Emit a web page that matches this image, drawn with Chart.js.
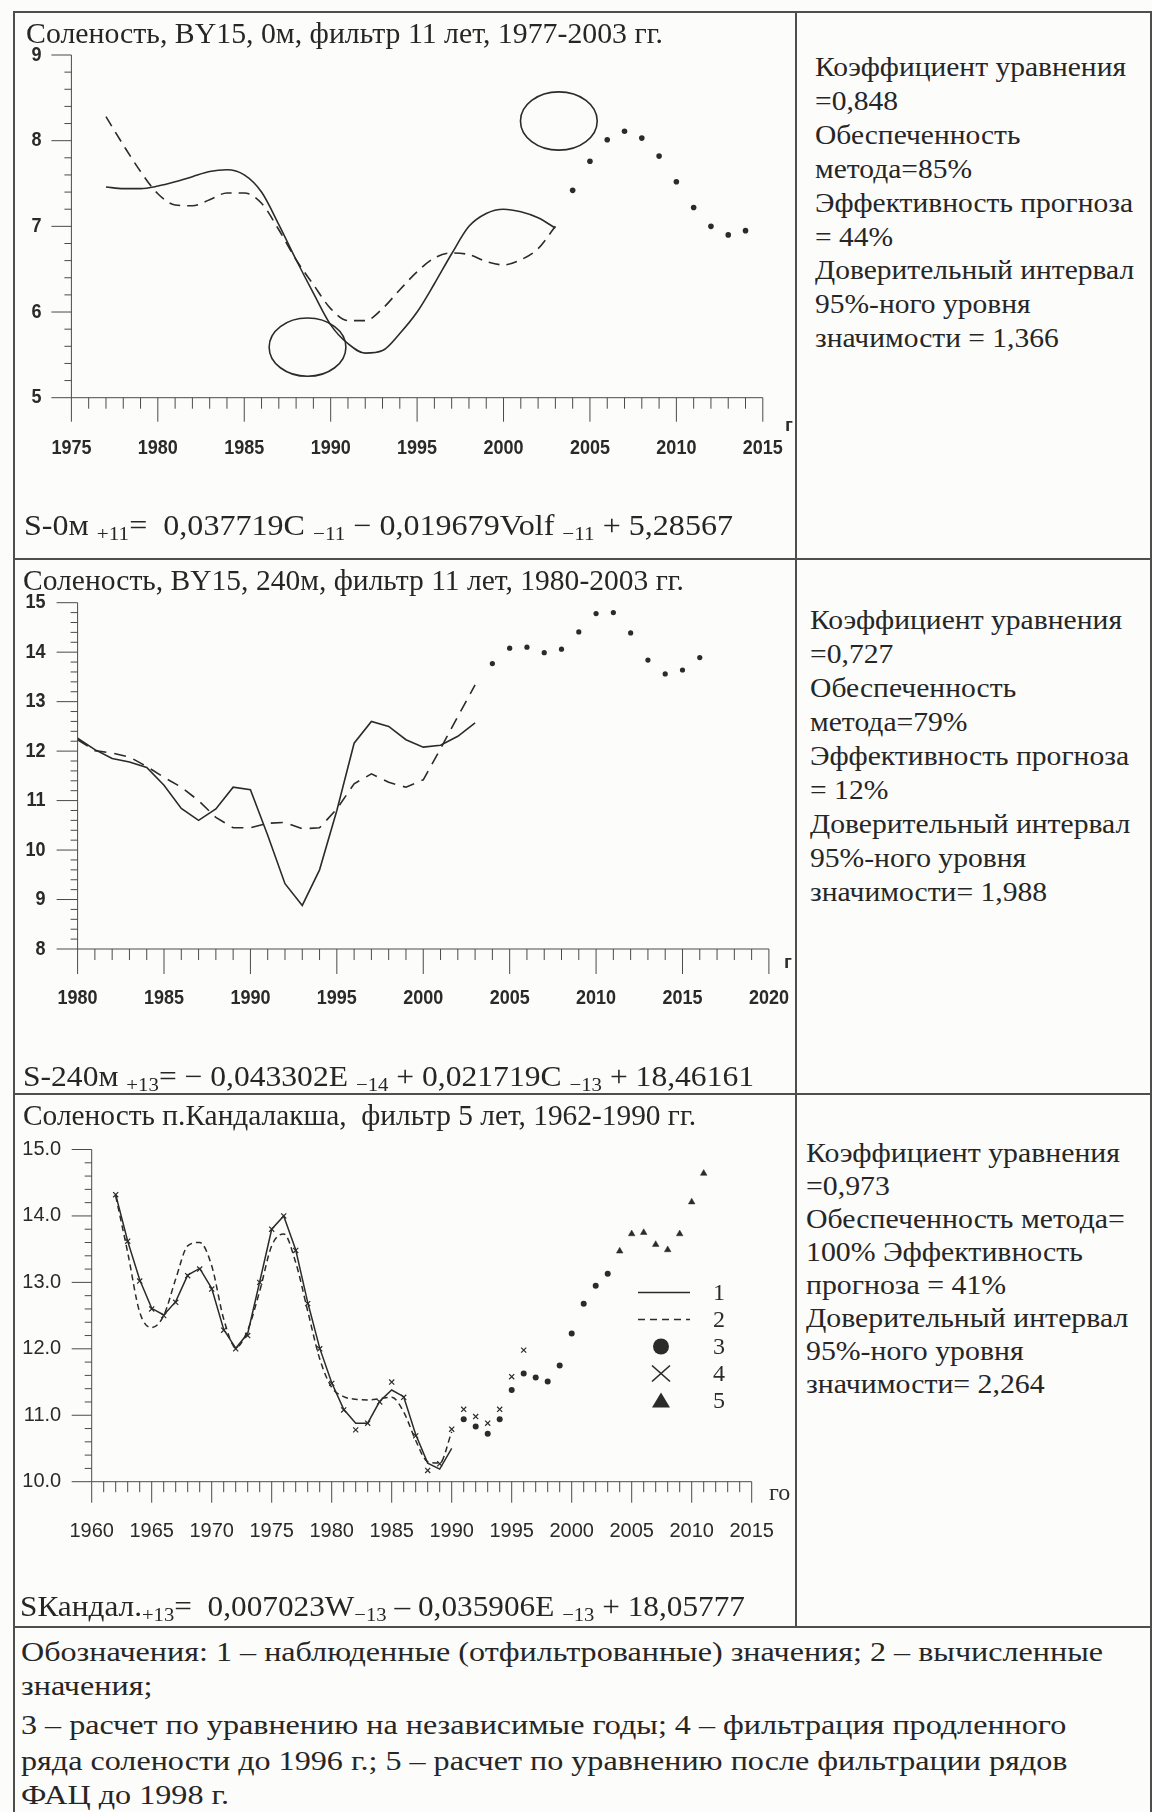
<!DOCTYPE html>
<html lang="ru">
<head>
<meta charset="utf-8">
<title>Соленость: наблюденные и вычисленные значения</title>
<script src="https://cdn.jsdelivr.net/npm/chart.js@4.4.1/dist/chart.umd.min.js"></script>
<style>
  html, body { margin: 0; padding: 0; background: #fcfcfb; }
  #sheet { position: relative; width: 1152px; height: 1812px; overflow: hidden;
           font-family: "Liberation Serif", "Times New Roman", serif; color: #262626; }
  .rule { position: absolute; background: #4e4e4e; }
  .t { position: absolute; white-space: nowrap; line-height: 1; transform-origin: 0 50%; }
  .t .lo { font-size: 0.66em; position: relative; top: 0.3em; }
  .unit { position: absolute; white-space: nowrap; line-height: 1; color: #2e2e2e; }
  canvas { position: absolute; left: 0; }
</style>
</head>
<body>
<div id="sheet">
  <!-- table frame -->
  <div class="rule" style="left:14px; top:11px; width:1137px; height:2px"></div>
  <div class="rule" style="left:13px; top:11px; width:1.5px; height:1801px"></div>
  <div class="rule" style="left:1150px; top:11px; width:1.5px; height:1801px"></div>
  <div class="rule" style="left:795px; top:11px; width:1.5px; height:1617px"></div>
  <div class="rule" style="left:14px; top:558px; width:1137px; height:2px"></div>
  <div class="rule" style="left:14px; top:1093px; width:1137px; height:2px"></div>
  <div class="rule" style="left:14px; top:1626px; width:1137px; height:2px"></div>

  <canvas id="c1" width="796" height="560" style="top:0"></canvas>
  <canvas id="c2" width="796" height="534" style="top:560px"></canvas>
  <canvas id="c3" width="796" height="533" style="top:1094px"></canvas>

  <!-- panel 1 -->
  <div class="t" data-x="26" data-cy="33" data-fs="30" data-w="637">Соленость, BY15, 0м, фильтр 11 лет, 1977-2003 гг.</div>
  <div class="unit" style="left:785px; top:414px; font:bold 19px 'Liberation Sans', Arial, sans-serif">г</div>
  <div class="t" data-x="24" data-cy="525" data-fs="29" data-w="709">S-0м <span class="lo">+11</span>=&nbsp; 0,037719C <span class="lo">−11</span> − 0,019679Volf <span class="lo">−11</span> + 5,28567</div>
  <div class="t" data-x="815" data-cy="67" data-fs="28" data-w="311" data-g="r1">Коэффициент уравнения</div>
  <div class="t" data-x="815" data-cy="100.9" data-fs="28" data-g="r1">=0,848</div>
  <div class="t" data-x="815" data-cy="134.8" data-fs="28" data-g="r1">Обеспеченность</div>
  <div class="t" data-x="815" data-cy="168.7" data-fs="28" data-g="r1">метода=85%</div>
  <div class="t" data-x="815" data-cy="202.6" data-fs="28" data-g="r1">Эффективность прогноза</div>
  <div class="t" data-x="815" data-cy="236.5" data-fs="28" data-g="r1">= 44%</div>
  <div class="t" data-x="815" data-cy="270.4" data-fs="28" data-g="r1">Доверительный интервал</div>
  <div class="t" data-x="815" data-cy="304.3" data-fs="28" data-g="r1">95%-ного уровня</div>
  <div class="t" data-x="815" data-cy="338.2" data-fs="28" data-g="r1">значимости = 1,366</div>

  <!-- panel 2 -->
  <div class="t" data-x="23" data-cy="580" data-fs="30" data-w="661">Соленость, BY15, 240м, фильтр 11 лет, 1980-2003 гг.</div>
  <div class="unit" style="left:784px; top:951px; font:bold 19px 'Liberation Sans', Arial, sans-serif">г</div>
  <div class="t" data-x="23" data-cy="1076" data-fs="29" data-w="731">S-240м <span class="lo">+13</span>= − 0,043302E <span class="lo">−14</span> + 0,021719C <span class="lo">−13</span> + 18,46161</div>
  <div class="t" data-x="810" data-cy="620" data-fs="28" data-w="312" data-g="r2">Коэффициент уравнения</div>
  <div class="t" data-x="810" data-cy="654" data-fs="28" data-g="r2">=0,727</div>
  <div class="t" data-x="810" data-cy="688" data-fs="28" data-g="r2">Обеспеченность</div>
  <div class="t" data-x="810" data-cy="722" data-fs="28" data-g="r2">метода=79%</div>
  <div class="t" data-x="810" data-cy="756" data-fs="28" data-g="r2">Эффективность прогноза</div>
  <div class="t" data-x="810" data-cy="790" data-fs="28" data-g="r2">= 12%</div>
  <div class="t" data-x="810" data-cy="824" data-fs="28" data-g="r2">Доверительный интервал</div>
  <div class="t" data-x="810" data-cy="858" data-fs="28" data-g="r2">95%-ного уровня</div>
  <div class="t" data-x="810" data-cy="892" data-fs="28" data-g="r2">значимости= 1,988</div>

  <!-- panel 3 -->
  <div class="t" data-x="23" data-cy="1115" data-fs="30" data-w="673">Соленость п.Кандалакша,&nbsp; фильтр 5 лет, 1962-1990 гг.</div>
  <div class="unit" style="left:769px; top:1479px; font:24px 'Liberation Serif', serif">го</div>
  <div class="t" data-x="20" data-cy="1606" data-fs="29" data-w="725">SКандал.<span class="lo">+13</span>=&nbsp; 0,007023W<span class="lo">−13</span> – 0,035906E <span class="lo">−13</span> + 18,05777</div>
  <div class="t" data-x="806" data-cy="1153" data-fs="28" data-w="314" data-g="r3">Коэффициент уравнения</div>
  <div class="t" data-x="806" data-cy="1186" data-fs="28" data-g="r3">=0,973</div>
  <div class="t" data-x="806" data-cy="1219" data-fs="28" data-g="r3">Обеспеченность метода=</div>
  <div class="t" data-x="806" data-cy="1252" data-fs="28" data-g="r3">100% Эффективность</div>
  <div class="t" data-x="806" data-cy="1285" data-fs="28" data-g="r3">прогноза = 41%</div>
  <div class="t" data-x="806" data-cy="1318" data-fs="28" data-g="r3">Доверительный интервал</div>
  <div class="t" data-x="806" data-cy="1351" data-fs="28" data-g="r3">95%-ного уровня</div>
  <div class="t" data-x="806" data-cy="1384" data-fs="28" data-g="r3">значимости= 2,264</div>

  <!-- notes -->
  <div class="t" data-x="21" data-cy="1652" data-fs="28" data-w="1082" data-g="n">Обозначения: 1 – наблюденные (отфильтрованные) значения; 2 – вычисленные</div>
  <div class="t" data-x="21" data-cy="1686" data-fs="28" data-g="n">значения;</div>
  <div class="t" data-x="21" data-cy="1725" data-fs="28" data-g="n">3 – расчет по уравнению на независимые годы; 4 – фильтрация продленного</div>
  <div class="t" data-x="21" data-cy="1761" data-fs="28" data-g="n">ряда солености до 1996 г.; 5 – расчет по уравнению после фильтрации рядов</div>
  <div class="t" data-x="21" data-cy="1795" data-fs="28" data-g="n">ФАЦ до 1998 г.</div>
</div>

<script>
// ---------- Panel 1: BY15, 0 m, 11-year filter ----------
const years1 = [1977, 1978, 1979, 1980, 1981, 1982, 1983, 1984, 1985, 1986, 1987, 1988, 1989, 1990,
                1991, 1992, 1993, 1994, 1995, 1996, 1997, 1998, 1999, 2000, 2001, 2002, 2003];
const observed1 = [7.46, 7.44, 7.44, 7.47, 7.52, 7.58, 7.64, 7.66, 7.60, 7.40, 7.02, 6.61, 6.22, 5.85,
                   5.63, 5.52, 5.55, 5.75, 6.00, 6.33, 6.68, 7.00, 7.15, 7.20, 7.17, 7.10, 6.98];
const computed1 = [8.28, 7.95, 7.64, 7.38, 7.25, 7.24, 7.31, 7.39, 7.39, 7.27, 6.96, 6.61, 6.32, 6.04,
                   5.90, 5.90, 6.04, 6.26, 6.47, 6.63, 6.69, 6.67, 6.59, 6.55, 6.61, 6.74, 7.00];
const forecastYears1 = [2004, 2005, 2006, 2007, 2008, 2009, 2010, 2011, 2012, 2013, 2014];
const forecast1 = [7.42, 7.76, 8.01, 8.11, 8.03, 7.82, 7.52, 7.22, 7.00, 6.90, 6.95];
const ringYears1 = [2003.2, 1988.66];
const ringValues1 = [8.23, 5.59];
const xTicks1 = [1975, 1980, 1985, 1990, 1995, 2000, 2005, 2010, 2015];
const yTicks1 = [5, 6, 7, 8, 9];

// ---------- Panel 2: BY15, 240 m, 11-year filter ----------
const years2 = [1980, 1981, 1982, 1983, 1984, 1985, 1986, 1987, 1988, 1989, 1990, 1991,
                1992, 1993, 1994, 1995, 1996, 1997, 1998, 1999, 2000, 2001, 2002, 2003];
const observed2 = [12.26, 12.03, 11.85, 11.78, 11.67, 11.31, 10.84, 10.60, 10.83, 11.27, 11.22, 10.30,
                   9.32, 8.88, 9.60, 10.80, 12.16, 12.60, 12.50, 12.23, 12.08, 12.12, 12.30, 12.57];
const computed2 = [12.23, 12.01, 11.96, 11.88, 11.69, 11.47, 11.27, 11.00, 10.66, 10.45, 10.45, 10.54,
                   10.56, 10.43, 10.45, 10.83, 11.34, 11.54, 11.37, 11.27, 11.42, 12.05, 12.70, 13.34];
const forecastYears2 = [2004, 2005, 2006, 2007, 2008, 2009, 2010, 2011, 2012, 2013, 2014, 2015, 2016];
const forecast2 = [13.77, 14.08, 14.10, 13.99, 14.06, 14.41, 14.78, 14.80, 14.39, 13.84, 13.56, 13.64, 13.89];
const xTicks2 = [1980, 1985, 1990, 1995, 2000, 2005, 2010, 2015, 2020];
const yTicks2 = [8, 9, 10, 11, 12, 13, 14, 15];

// ---------- Panel 3: Kandalaksha, 5-year filter ----------
const years3 = [1962, 1963, 1964, 1965, 1966, 1967, 1968, 1969, 1970, 1971, 1972, 1973, 1974, 1975,
                1976, 1977, 1978, 1979, 1980, 1981, 1982, 1983, 1984, 1985, 1986, 1987, 1988, 1989, 1990];
const observed3 = [14.32, 13.62, 13.04, 12.61, 12.51, 12.71, 13.11, 13.21, 12.91, 12.29, 12.01, 12.23, 13.01, 13.80,
                   14.00, 13.49, 12.70, 12.01, 11.49, 11.09, 10.88, 10.88, 11.21, 11.38, 11.28, 10.71, 10.28, 10.19, 10.50];
const computed3 = [14.30, 13.45, 12.55, 12.32, 12.50, 13.05, 13.55, 13.60, 13.25, 12.45, 12.02, 12.28, 12.87, 13.55,
                   13.73, 13.30, 12.57, 11.85, 11.42, 11.28, 11.24, 11.23, 11.25, 11.27, 11.05, 10.62, 10.30, 10.28, 10.75];
const extendedYears3 = [1962, 1963, 1964, 1965, 1966, 1967, 1968, 1969, 1970, 1971, 1972, 1973, 1974, 1975,
                        1976, 1977, 1978, 1979, 1980, 1981, 1982, 1983, 1984, 1985, 1986, 1987, 1988, 1989,
                        1990, 1991, 1992, 1993, 1994, 1995, 1996];
const extended3 = [14.32, 13.62, 13.02, 12.60, 12.50, 12.70, 13.10, 13.20, 12.90, 12.28, 12.00, 12.20, 13.00, 13.80,
                   14.00, 13.48, 12.68, 12.00, 11.48, 11.08, 10.78, 10.88, 11.20, 11.50, 11.27, 10.69, 10.17, 10.27,
                   10.79, 11.09, 10.98, 10.88, 11.09, 11.58, 11.98];
const independentYears3 = [1991, 1992, 1993, 1994, 1995, 1996, 1997, 1998, 1999, 2000, 2001, 2002, 2003];
const independent3 = [10.94, 10.83, 10.72, 10.94, 11.38, 11.63, 11.57, 11.51, 11.75, 12.23, 12.68, 12.95, 13.13];
const refilteredYears3 = [2004, 2005, 2006, 2007, 2008, 2009, 2010, 2011];
const refiltered3 = [13.47, 13.73, 13.75, 13.57, 13.49, 13.73, 14.21, 14.64];
const xTicks3 = [1960, 1965, 1970, 1975, 1980, 1985, 1990, 1995, 2000, 2005, 2010, 2015];
const yTicks3 = [10, 11, 12, 13, 14, 15];
const legendLabels3 = ['1', '2', '3', '4', '5'];

// ---------- drawing helpers ----------
const ink = '#2b2b2b';
const axisInk = '#4a4a4a';
const sans = '"Liberation Sans", Arial, sans-serif';
const serif = '"Liberation Serif", "Times New Roman", serif';

function pts(xs, ys) { return xs.map((x, i) => ({ x: x, y: ys[i] })); }

function seg(ctx, x1, y1, x2, y2) {
  ctx.beginPath(); ctx.moveTo(x1, y1); ctx.lineTo(x2, y2); ctx.stroke();
}

function label(ctx, text, x, y, stretch) {
  ctx.save();
  ctx.translate(x, y);
  ctx.scale(1, stretch);
  ctx.fillText(text, 0, 0);
  ctx.restore();
}

// Axes, year/value tick marks and tick labels, placed through the chart scales.
const axesPlugin = {
  id: 'axesPlugin',
  beforeDatasetsDraw(chart, args, o) {
    const ctx = chart.ctx, sx = chart.scales.x, sy = chart.scales.y;
    const left = sx.getPixelForValue(sx.min), right = sx.getPixelForValue(sx.max);
    const top = sy.getPixelForValue(sy.max), bottom = sy.getPixelForValue(sy.min);
    ctx.save();
    ctx.strokeStyle = axisInk;
    ctx.lineWidth = 1;
    seg(ctx, left, top, left, bottom);
    seg(ctx, left, bottom, right, bottom);
    const nx = Math.round((sx.max - sx.min) / o.xStep);
    for (let k = 0; k <= nx; k++) {
      const v = sx.min + k * o.xStep;
      const px = sx.getPixelForValue(v);
      const major = o.xTicks.indexOf(v) >= 0;
      seg(ctx, px, bottom, px, bottom + (major ? o.xMajorLen : o.xMinorLen));
    }
    const ny = Math.round((sy.max - sy.min) / o.yStep);
    for (let k = 0; k <= ny; k++) {
      const v = +(sy.min + k * o.yStep).toFixed(4);
      const py = sy.getPixelForValue(v);
      const major = o.yTicks.indexOf(v) >= 0;
      seg(ctx, left - (major ? o.yMajorLen : o.yMinorLen), py, left, py);
    }
    ctx.fillStyle = '#2a2a2a';
    ctx.font = o.font;
    ctx.textAlign = 'center';
    ctx.textBaseline = 'middle';
    o.xTicks.forEach(v => label(ctx, String(v), sx.getPixelForValue(v), bottom + o.xLabelGap, o.stretch));
    ctx.textAlign = 'right';
    o.yTicks.forEach(v => label(ctx, v.toFixed(o.decimals), left - o.yLabelGap, sy.getPixelForValue(v), o.stretch));
    ctx.restore();
  }
};

// Hand-drawn style highlight ellipses, centred on data coordinates.
const ringsPlugin = {
  id: 'ringsPlugin',
  afterDatasetsDraw(chart, args, o) {
    if (!o.xs) return;
    const ctx = chart.ctx, sx = chart.scales.x, sy = chart.scales.y;
    ctx.save();
    ctx.strokeStyle = ink;
    ctx.lineWidth = 1.6;
    o.xs.forEach((xv, i) => {
      const cx = sx.getPixelForValue(xv), cy = sy.getPixelForValue(o.ys[i]);
      const rx = Math.abs(sx.getPixelForValue(xv + o.halfX) - cx);
      const ry = Math.abs(sy.getPixelForValue(o.ys[i] + o.halfY) - cy);
      ctx.beginPath();
      ctx.ellipse(cx, cy, rx, ry, 0, 0, Math.PI * 2);
      ctx.stroke();
    });
    ctx.restore();
  }
};

// Key with line samples and marker symbols inside the plot.
const keyPlugin = {
  id: 'keyPlugin',
  afterDatasetsDraw(chart, args, o) {
    if (!o.rows) return;
    const ctx = chart.ctx;
    ctx.save();
    ctx.strokeStyle = ink; ctx.fillStyle = ink;
    o.rows.forEach((r, i) => {
      const y = o.top + i * o.gap;
      const cx = o.symbolX;
      ctx.lineWidth = 1.5;
      if (r === 'solid' || r === 'dash') {
        ctx.setLineDash(r === 'dash' ? [7, 5] : []);
        seg(ctx, o.lineFrom, y, o.lineTo, y);
        ctx.setLineDash([]);
      } else if (r === 'dot') {
        ctx.beginPath(); ctx.arc(cx, y, 8, 0, Math.PI * 2); ctx.fill();
      } else if (r === 'cross') {
        ctx.lineWidth = 1.6;
        seg(ctx, cx - 9, y - 8, cx + 9, y + 8);
        seg(ctx, cx - 9, y + 8, cx + 9, y - 8);
      } else if (r === 'tri') {
        ctx.beginPath(); ctx.moveTo(cx, y - 8); ctx.lineTo(cx + 9, y + 7); ctx.lineTo(cx - 9, y + 7);
        ctx.closePath(); ctx.fill();
      }
      ctx.font = '24px ' + serif;
      ctx.textAlign = 'left'; ctx.textBaseline = 'middle';
      ctx.fillText(o.labels[i], o.labelX, y + 1);
    });
    ctx.restore();
  }
};

function makeChart(id, pad, xr, yr, datasets, axes, extra) {
  const plugins = Object.assign({ legend: { display: false }, tooltip: { enabled: false }, axesPlugin: axes }, extra || {});
  return new Chart(document.getElementById(id), {
    type: 'line',
    data: { datasets: datasets },
    options: {
      responsive: false, animation: false, devicePixelRatio: 1, events: [],
      layout: { padding: pad },
      scales: {
        x: { type: 'linear', min: xr[0], max: xr[1], display: false },
        y: { type: 'linear', min: yr[0], max: yr[1], display: false }
      },
      plugins: plugins
    },
    plugins: [axesPlugin, ringsPlugin, keyPlugin]
  });
}

const lineStyle = { borderColor: ink, borderWidth: 1.6, pointRadius: 0, fill: false };
const dotStyle = { showLine: false, pointStyle: 'circle', pointRadius: 2.8, pointBackgroundColor: ink, pointBorderWidth: 0 };

makeChart('c1', { left: 71.4, right: 33.2, top: 55, bottom: 162.3 }, [1975, 2015], [5, 9], [
  Object.assign({ data: pts(years1, observed1), cubicInterpolationMode: 'monotone' }, lineStyle),
  Object.assign({ data: pts(years1, computed1), cubicInterpolationMode: 'monotone', borderDash: [11, 7] }, lineStyle),
  Object.assign({ data: pts(forecastYears1, forecast1) }, dotStyle)
], {
  xTicks: xTicks1, yTicks: yTicks1, xStep: 1, yStep: 0.2, decimals: 0,
  xMinorLen: 11, xMajorLen: 24, yMinorLen: 7, yMajorLen: 20,
  xLabelGap: 51, yLabelGap: 30, font: 'bold 18px ' + sans, stretch: 1.12
}, { ringsPlugin: { xs: ringYears1, ys: ringValues1, halfX: 2.22, halfY: 0.34 } });

makeChart('c2', { left: 77.6, right: 27.1, top: 42.7, bottom: 145 }, [1980, 2020], [8, 15], [
  Object.assign({ data: pts(years2, observed2) }, lineStyle),
  Object.assign({ data: pts(years2, computed2), borderDash: [12, 8] }, lineStyle),
  Object.assign({ data: pts(forecastYears2, forecast2) }, dotStyle, { pointRadius: 2.6 })
], {
  xTicks: xTicks2, yTicks: yTicks2, xStep: 1, yStep: 0.2, decimals: 0,
  xMinorLen: 11, xMajorLen: 25, yMinorLen: 7, yMajorLen: 21,
  xLabelGap: 49, yLabelGap: 32, font: 'bold 18px ' + sans, stretch: 1.12
});

makeChart('c3', { left: 91.7, right: 44.3, top: 55.5, bottom: 145.3 }, [1960, 2015], [10, 15], [
  Object.assign({ data: pts(years3, observed3) }, lineStyle, { borderWidth: 1.5 }),
  Object.assign({ data: pts(years3, computed3), borderDash: [6, 4], cubicInterpolationMode: 'monotone' }, lineStyle, { borderWidth: 1.5 }),
  Object.assign({ data: pts(independentYears3, independent3) }, dotStyle, { pointRadius: 3 }),
  { data: pts(extendedYears3, extended3), showLine: false, pointStyle: 'crossRot', pointRadius: 3.6,
    pointBorderColor: ink, pointBorderWidth: 1.2 },
  { data: pts(refilteredYears3, refiltered3), showLine: false, pointStyle: 'triangle', pointRadius: 3.8,
    pointBackgroundColor: ink, pointBorderColor: ink, pointBorderWidth: 0.5 }
], {
  xTicks: xTicks3, yTicks: yTicks3, xStep: 1, yStep: 0.2, decimals: 1,
  xMinorLen: 10.5, xMajorLen: 21, yMinorLen: 7, yMajorLen: 20,
  xLabelGap: 50, yLabelGap: 30.5, font: '20px ' + sans, stretch: 1.0
}, { keyPlugin: { rows: ['solid', 'dash', 'dot', 'cross', 'tri'], labels: legendLabels3,
                  top: 198.5, gap: 27, lineFrom: 638, lineTo: 690, symbolX: 661, labelX: 713 } });

// Text lines: font size sets the letter height, a horizontal scale sets the run length.
function layoutText() {
  const els = Array.from(document.querySelectorAll('.t'));
  const groupScale = {};
  els.forEach(el => {
    const fs = +el.dataset.fs;
    el.style.transform = 'none';
    el.style.fontSize = fs + 'px';
    el.style.left = el.dataset.x + 'px';
    el.style.top = (+el.dataset.cy - fs * 0.5) + 'px';
  });
  els.forEach(el => {
    if (el.dataset.w) {
      const k = +el.dataset.w / el.getBoundingClientRect().width;
      el.dataset.k = k;
      if (el.dataset.g) groupScale[el.dataset.g] = k;
    }
  });
  els.forEach(el => {
    const k = el.dataset.w ? +el.dataset.k : (groupScale[el.dataset.g] || 1);
    el.style.transform = 'scaleX(' + k + ')';
  });
}
layoutText();
if (document.fonts && document.fonts.ready) document.fonts.ready.then(layoutText);
</script>
</body>
</html>
